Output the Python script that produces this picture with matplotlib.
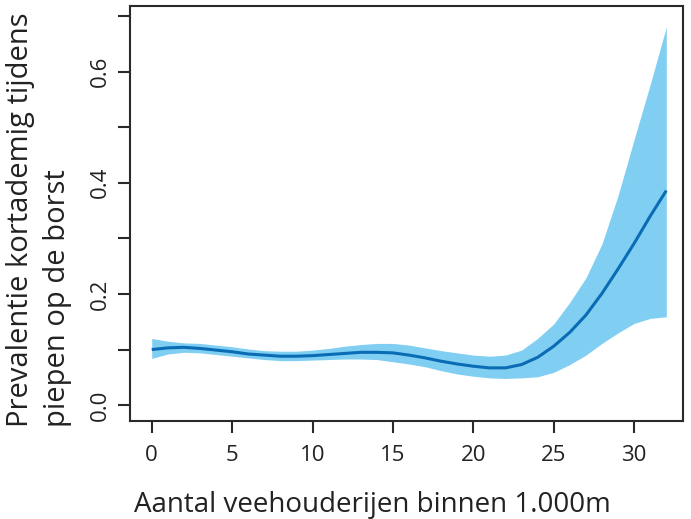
import matplotlib
matplotlib.use("Agg")
import matplotlib.pyplot as plt

# Data
x_vals = [0, 1, 2, 3, 4, 5, 6, 7, 8, 9, 10, 11, 12, 13, 14, 15, 16,
          17, 18, 19, 20, 21, 22, 23, 24, 25, 26, 27, 28, 29, 30, 31, 32]
fit = [0.100, 0.103, 0.104, 0.102, 0.099, 0.096, 0.092, 0.090, 0.088, 0.088,
       0.089, 0.091, 0.093, 0.095, 0.095, 0.094, 0.090, 0.085, 0.079, 0.074,
       0.070, 0.067, 0.067, 0.073, 0.086, 0.106, 0.131, 0.162, 0.201, 0.245,
       0.291, 0.340, 0.386]
lower = [0.084, 0.092, 0.095, 0.094, 0.091, 0.088, 0.085, 0.082, 0.080, 0.080,
         0.081, 0.082, 0.083, 0.083, 0.082, 0.078, 0.074, 0.069, 0.062, 0.056,
         0.052, 0.049, 0.048, 0.049, 0.051, 0.059, 0.073, 0.090, 0.111, 0.130,
         0.147, 0.156, 0.159]
upper = [0.120, 0.115, 0.112, 0.111, 0.108, 0.105, 0.101, 0.098, 0.097, 0.097,
         0.099, 0.102, 0.106, 0.109, 0.111, 0.111, 0.108, 0.103, 0.098, 0.094,
         0.090, 0.088, 0.090, 0.099, 0.120, 0.146, 0.185, 0.229, 0.290, 0.377,
         0.478, 0.577, 0.680]
x_ticks = [0, 5, 10, 15, 20, 25, 30]
y_ticks = [0.0, 0.1, 0.2, 0.3, 0.4, 0.5, 0.6, 0.7]
y_tick_labels = ["0.0", "", "0.2", "", "0.4", "", "0.6", ""]
x_label = "Aantal veehouderijen binnen 1.000m"
y_label_1 = "Prevalentie kortademig tijdens"
y_label_2 = "piepen op de borst"

plt.rcParams['font.family'] = ['Open Sans', 'DejaVu Sans']

W, H = 691, 519
fig = plt.figure(figsize=(W / 100, H / 100), dpi=100)
ax = fig.add_axes([130 / W, 1 - 420.7 / H, (682.7 - 130) / W, (420.7 - 6) / H])

ax.fill_between(x_vals, lower, upper, color="#80cff2", linewidth=0)
ax.plot(x_vals, fit, color="#0a6cb4", linewidth=2.2, solid_capstyle="butt",
        solid_joinstyle="round")

ax.set_xlim(-1.35, 33.02)
ax.set_ylim(-0.028, 0.718)
ax.set_xticks(x_ticks)
ax.set_xticklabels([str(t) for t in x_ticks])
ax.set_yticks(y_ticks)
ax.set_yticklabels(y_tick_labels, rotation=90, va="center")

for s in ax.spines.values():
    s.set_linewidth(1.5)
    s.set_color("#2a2a2a")
ax.tick_params(axis="both", direction="out", length=8.5, width=1.5,
               color="#2a2a2a", labelsize=16, labelcolor="#222222")
ax.tick_params(axis="x", pad=9)
ax.tick_params(axis="y", pad=5)

fig.text(372.5 / W, 1 - 512 / H, x_label, ha="center", va="baseline",
         fontsize=20, color="#222222")

fig.text(21 / W, 1 - 427 / H, y_label_1, rotation=90, ha="center", va="bottom",
         fontsize=21, color="#222222")
fig.text(57 / W, 1 - 427 / H, y_label_2, rotation=90, ha="center", va="bottom",
         fontsize=21, color="#222222")

fig.savefig("out.png", dpi=100)
